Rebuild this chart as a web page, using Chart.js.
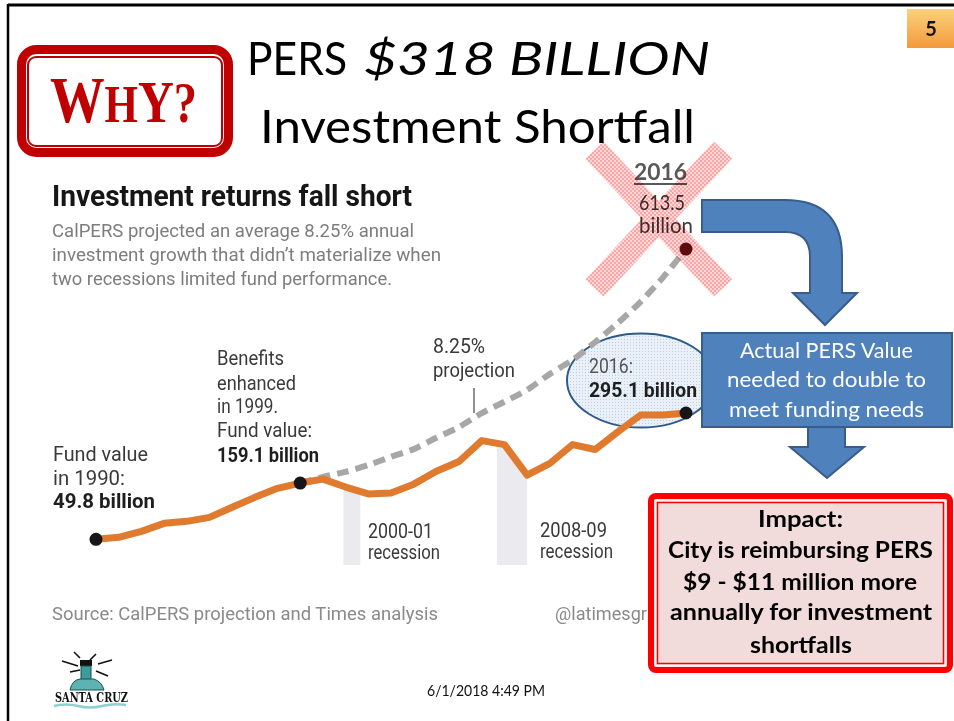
<!DOCTYPE html>
<html><head><meta charset="utf-8">
<script src="https://cdn.jsdelivr.net/npm/chart.js@4.4.1/dist/chart.umd.min.js"></script>
<style>
html,body{margin:0;padding:0;background:#fff;}
body{width:954px;height:721px;position:relative;overflow:hidden;}
.layer{position:absolute;left:0;top:0;width:954px;height:721px;}
.cal{font-family:Lato,"Open Sans",sans-serif;}
.lat{font-family:Roboto,"Liberation Sans",sans-serif;}
</style></head>
<body>
<svg id="under" class="layer" width="954" height="721" viewBox="0 0 954 721">
  <defs>
    <pattern id="dots" width="3" height="3" patternUnits="userSpaceOnUse">
      <rect width="3" height="3" fill="#eaf0f8"/><rect width="1" height="1" fill="#bccde3"/>
    </pattern>
  </defs>
  <ellipse cx="641" cy="380.5" rx="74" ry="47" fill="url(#dots)" stroke="#2e5a8c" stroke-width="2"/>
</svg>
<canvas id="c" class="layer" width="954" height="721"></canvas>
<svg id="over" class="layer" width="954" height="721" viewBox="0 0 954 721">
  <defs>
    <linearGradient id="pg" x1="0" y1="0" x2="0" y2="1">
      <stop offset="0" stop-color="#fbd27c"/><stop offset="1" stop-color="#f3993c"/>
    </linearGradient>
  </defs>
  <!-- slide border -->
  <line x1="8" y1="5" x2="954" y2="5" stroke="#000" stroke-width="3"/>
  <line x1="8" y1="4" x2="8" y2="721" stroke="#000" stroke-width="2.5"/>
  <!-- page number -->
  <rect x="907" y="9" width="47" height="39" fill="url(#pg)"/>
  <text class="cal" x="931" y="36" font-size="20" font-weight="700" text-anchor="middle" fill="#111">5</text>
  <!-- WHY box -->
  <rect x="21.5" y="49.5" width="207" height="103" rx="15" fill="#fff" stroke="#c00000" stroke-width="9"/>
  <rect x="28" y="57" width="194" height="89" rx="8" fill="none" stroke="#c00000" stroke-width="2"/>
  <text x="50" y="122" font-family="'Liberation Serif',serif" font-weight="700" fill="#c00000" textLength="147" lengthAdjust="spacingAndGlyphs"><tspan font-size="66">W</tspan><tspan font-size="52">H</tspan><tspan font-size="60">Y</tspan><tspan font-size="56">?</tspan></text>
  <!-- title -->
  <text class="cal" x="247" y="75" font-size="46" fill="#000" textLength="100" lengthAdjust="spacingAndGlyphs">PERS</text>
  <text class="cal" x="364" y="75" font-size="46" font-style="italic" fill="#000" textLength="346" lengthAdjust="spacingAndGlyphs">$318 BILLION</text>
  <text class="cal" x="260" y="143" font-size="46" fill="#000" textLength="435" lengthAdjust="spacingAndGlyphs">Investment Shortfall</text>
  <!-- chart heading -->
  <g class="lat">
  <text x="52" y="206" font-size="29.5" font-weight="700" fill="#161616" textLength="360" lengthAdjust="spacingAndGlyphs">Investment returns fall short</text>
  <text x="52" y="237" font-size="19" fill="#7d7d7d" textLength="362" lengthAdjust="spacingAndGlyphs">CalPERS projected an average 8.25% annual</text>
  <text x="52" y="261" font-size="19" fill="#7d7d7d" textLength="389" lengthAdjust="spacingAndGlyphs">investment growth that didn’t materialize when</text>
  <text x="52" y="285" font-size="19" fill="#7d7d7d" textLength="340" lengthAdjust="spacingAndGlyphs">two recessions limited fund performance.</text>
  <!-- annotations -->
  <g font-size="19.5" fill="#3a3a3a">
  <text x="53" y="461" textLength="95" lengthAdjust="spacingAndGlyphs">Fund value</text>
  <text x="53" y="485" textLength="72" lengthAdjust="spacingAndGlyphs">in 1990:</text>
  <text x="53" y="508" font-weight="700" fill="#1e1e1e" textLength="102" lengthAdjust="spacingAndGlyphs">49.8 billion</text>
  <text x="217" y="365" textLength="67" lengthAdjust="spacingAndGlyphs">Benefits</text>
  <text x="217" y="390" textLength="79" lengthAdjust="spacingAndGlyphs">enhanced</text>
  <text x="217" y="413" textLength="61" lengthAdjust="spacingAndGlyphs">in 1999.</text>
  <text x="217" y="437" textLength="95" lengthAdjust="spacingAndGlyphs">Fund value:</text>
  <text x="217" y="462" font-weight="700" fill="#1e1e1e" textLength="102" lengthAdjust="spacingAndGlyphs">159.1 billion</text>
  <text x="433" y="353" textLength="52" lengthAdjust="spacingAndGlyphs">8.25%</text>
  <text x="433" y="377" textLength="82" lengthAdjust="spacingAndGlyphs">projection</text>
  <text x="368" y="538" textLength="65" lengthAdjust="spacingAndGlyphs">2000-01</text>
  <text x="368" y="559" textLength="72" lengthAdjust="spacingAndGlyphs">recession</text>
  <text x="540" y="537" textLength="67" lengthAdjust="spacingAndGlyphs">2008-09</text>
  <text x="540" y="558" textLength="73" lengthAdjust="spacingAndGlyphs">recession</text>
  <text x="589" y="373" fill="#555" textLength="44" lengthAdjust="spacingAndGlyphs">2016:</text>
  <text x="589" y="397" font-weight="700" fill="#1e1e1e" textLength="108" lengthAdjust="spacingAndGlyphs">295.1 billion</text>
  </g>
  <line x1="474" y1="388" x2="474" y2="413" stroke="#555" stroke-width="1.3"/>
  <text x="52" y="620" font-size="18" fill="#8a8a8a" textLength="386" lengthAdjust="spacingAndGlyphs">Source: CalPERS projection and Times analysis</text>
  <text x="555" y="620" font-size="18" fill="#8a8a8a" textLength="92" lengthAdjust="spacingAndGlyphs">@latimesgr</text>
  </g>
  <!-- projected 2016 label -->
  <g class="cal">
  <text x="634" y="180" font-size="23" font-weight="700" fill="#595959" textLength="53" lengthAdjust="spacingAndGlyphs">2016</text>
  <line x1="634" y1="184" x2="687" y2="184" stroke="#595959" stroke-width="2"/>
  <text x="639" y="210" font-size="21" fill="#3a3a3a" textLength="46" lengthAdjust="spacingAndGlyphs">613.5</text>
  <text x="639" y="233" font-size="21" fill="#3a3a3a" textLength="54" lengthAdjust="spacingAndGlyphs">billion</text>
  </g>
  <!-- curved arrow -->
  <path d="M702,200 L785,200 Q842,200 842,257 L842,293 L857,293 L825,325 L793,293 L810,293 L810,257 Q810,232 785,232 L702,232 Z" fill="#4f81bd" stroke="#385d8a" stroke-width="2"/>
  <!-- blue box -->
  <rect x="702" y="333" width="250" height="94" fill="#4f81bd" stroke="#385d8a" stroke-width="2"/>
  <path d="M808,427 L845,427 L845,447 L864,447 L827,478 L790,447 L808,447 Z" fill="#4f81bd" stroke="#385d8a" stroke-width="2"/>
  <g class="cal" font-size="20.5" fill="#fff">
  <text x="740" y="358" textLength="173" lengthAdjust="spacingAndGlyphs">Actual PERS Value</text>
  <text x="727" y="387" textLength="199" lengthAdjust="spacingAndGlyphs">needed to double to</text>
  <text x="729" y="417" textLength="195" lengthAdjust="spacingAndGlyphs">meet funding needs</text>
  </g>
  <!-- impact box -->
  <rect x="651" y="496" width="299" height="174" rx="5" fill="#f2dcdb" stroke="#ff0000" stroke-width="6"/>
  <rect x="655.5" y="500.5" width="290" height="165" fill="none" stroke="#ffffff" stroke-width="1.5"/>
  <rect x="657.5" y="502.5" width="286" height="161" fill="none" stroke="#ff0000" stroke-width="1.5"/>
  <g class="cal" font-size="22.5" font-weight="700" fill="#000">
  <text x="758" y="527" textLength="85" lengthAdjust="spacingAndGlyphs">Impact:</text>
  <text x="668" y="558" textLength="265" lengthAdjust="spacingAndGlyphs">City is reimbursing PERS</text>
  <text x="683" y="590" textLength="234" lengthAdjust="spacingAndGlyphs">$9 - $11 million more</text>
  <text x="670" y="620" textLength="262" lengthAdjust="spacingAndGlyphs">annually for investment</text>
  <text x="750" y="653" textLength="102" lengthAdjust="spacingAndGlyphs">shortfalls</text>
  </g>
  <!-- footer -->
  <text class="cal" x="427" y="696" font-size="14.5" fill="#111" textLength="118" lengthAdjust="spacingAndGlyphs">6/1/2018 4:49 PM</text>
  <!-- logo -->
  <g>
    <path d="M62,661 L78,666 M98,664 L112,660 M90,660 L96,654 M70,672 L80,670 M96,671 L108,676 M80,658 L74,652" stroke="#111" stroke-width="1.6"/>
    <rect x="80" y="660" width="12" height="6" fill="#111"/>
    <rect x="81" y="666" width="10" height="15" fill="#3a9c9c" stroke="#1a4a4a" stroke-width="1"/>
    <path d="M70,690 Q72,680 80,679 L94,679 Q102,682 104,690 Z" fill="#5fb2b2" stroke="#1f4f4f" stroke-width="1"/>
    <text x="55" y="702" font-family="'DejaVu Serif',serif" font-size="12" font-weight="700" fill="#111" textLength="73" lengthAdjust="spacingAndGlyphs">SANTA CRUZ</text>
    <path d="M54,706 Q66,703 78,706 T102,706 T126,705" stroke="#8cd0d0" stroke-width="2.5" fill="none"/>
  </g>
</svg>
<svg id="xmark" class="layer" width="954" height="721" viewBox="0 0 954 721" style="mix-blend-mode:multiply">
  <defs>
    <pattern id="chk" width="4" height="4" patternUnits="userSpaceOnUse">
      <rect width="4" height="4" fill="#ffd8d8"/>
      <rect width="2" height="2" fill="#ffa4a4"/>
      <rect x="2" y="2" width="2" height="2" fill="#ffa4a4"/>
    </pattern>
  </defs>
  <line x1="594.5" y1="150" x2="723" y2="288" stroke="url(#chk)" stroke-width="25"/>
  <line x1="723" y1="150" x2="594.5" y2="288" stroke="url(#chk)" stroke-width="25"/>
</svg>
<script>
// ---- data (billions of dollars) ----
const years = [1990,1991,1992,1993,1994,1995,1996,1997,1998,1999,2000,2001,2002,2003,2004,2005,2006,2007,2008,2009,2010,2011,2012,2013,2014,2015,2016];
const fundValue = [49.8,53.7,65.3,80.9,84.8,92.5,112,131.4,148.8,159.1,166.8,151.4,138,140,157,182,201,241.5,233.8,174.4,197.4,233.8,224.2,258.7,291.3,291.3,295.1];
const projYears = [1999,2000,2001,2002,2003,2004,2005,2006,2007,2008,2009,2010,2011,2012,2013,2014,2015,2016];
const projValue = [159.1,171,181,194,210,225,247,268,295,317,340,371,398,433,470,511,559,613.5];
const markedYears = [1990,1999,2016];
const recessionStart = [2000.9, 2007.67];
const recessionEnd = [2001.65, 2009.0];

const recessionBands = {
  id: 'recessionBands',
  beforeDatasetsDraw(chart) {
    const {ctx, chartArea} = chart;
    const x = chart.scales.x, y = chart.scales.y;
    const pts = chart.getDatasetMeta(0).data;
    const base = y.getPixelForValue(0);
    ctx.save();
    ctx.beginPath();
    ctx.moveTo(pts[0].x, pts[0].y);
    for (const p of pts) ctx.lineTo(p.x, p.y);
    ctx.lineTo(pts[pts.length-1].x, base);
    ctx.lineTo(pts[0].x, base);
    ctx.closePath();
    ctx.clip();
    ctx.fillStyle = '#ebebef';
    recessionStart.forEach((s, i) => {
      const x0 = x.getPixelForValue(s), x1 = x.getPixelForValue(recessionEnd[i]);
      ctx.fillRect(x0, chartArea.top, x1 - x0, base - chartArea.top);
    });
    ctx.restore();
  }
};

new Chart(document.getElementById('c'), {
  type: 'line',
  data: {
    datasets: [
      {
        label: 'Fund value',
        data: years.map((yr, i) => ({x: yr, y: fundValue[i]})),
        borderColor: '#df7a2f',
        borderWidth: 7,
        borderJoinStyle: 'round',
        borderCapStyle: 'round',
        tension: 0,
        pointRadius: c => markedYears.includes(years[c.dataIndex]) ? 6.5 : 0,
        pointBackgroundColor: '#161616',
        pointBorderWidth: 0,
        pointHoverRadius: 0,
        clip: false
      },
      {
        label: '8.25% projection',
        data: projYears.map((yr, i) => ({x: yr, y: projValue[i]})),
        borderColor: '#a7a7a7',
        borderWidth: 6,
        borderDash: [12, 7],
        tension: 0.2,
        pointRadius: c => c.dataIndex === projYears.length - 1 ? 6.5 : 0,
        pointBackgroundColor: '#5a1014',
        pointBorderWidth: 0,
        pointHoverRadius: 0,
        clip: false
      }
    ]
  },
  options: {
    responsive: false,
    animation: false,
    devicePixelRatio: 1,
    events: [],
    layout: {padding: {left: 96, right: 268, top: 50, bottom: 156}},
    scales: {
      x: {type: 'linear', min: 1990, max: 2016, display: false},
      y: {type: 'linear', min: 0, max: 1000, display: false}
    },
    plugins: {legend: {display: false}, tooltip: {enabled: false}}
  },
  plugins: [recessionBands]
});
</script>
</body></html>
